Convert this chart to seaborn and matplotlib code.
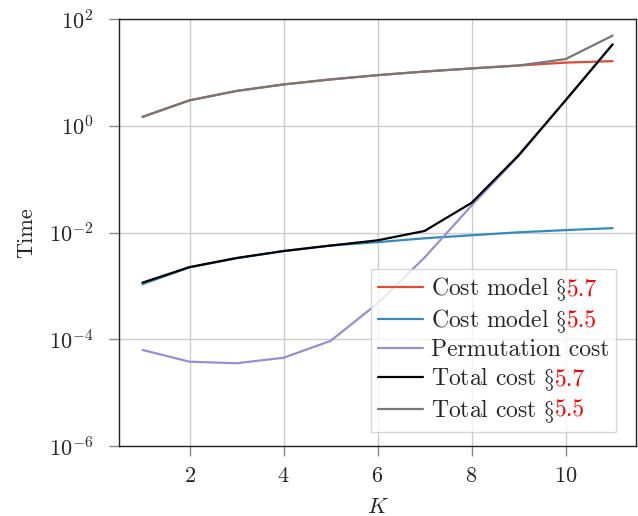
import numpy as np
import pandas as pd
import matplotlib
matplotlib.use("Agg")
import matplotlib.pyplot as plt
import seaborn as sns
from matplotlib.offsetbox import HPacker, TextArea

K = [1, 2, 3, 4, 5, 6, 7, 8, 9, 10, 11]
cost_model_57 = [1.47, 3.0, 4.5, 5.96, 7.4, 8.9, 10.4, 11.9, 13.5, 15.3, 16.3]
cost_model_55 = [0.00108, 0.00222, 0.0033, 0.0045, 0.0057, 0.0066, 0.0078, 0.0089, 0.0101, 0.0111, 0.0121]
permutation_cost = [6.3e-5, 3.8e-5, 3.55e-5, 4.5e-5, 9.3e-5, 4.7e-4, 3.4e-3, 0.032, 0.27, 3.0, 33.5]
total_cost_57 = [0.00115, 0.00225, 0.00333, 0.0045, 0.0057, 0.00714, 0.0107, 0.036, 0.28, 3.0, 33.5]
total_cost_55 = [1.47, 3.0, 4.5, 5.96, 7.4, 8.9, 10.4, 11.9, 13.5, 17.8, 49.0]

labels = ["Cost model §5.7", "Cost model §5.5", "Permutation cost",
          "Total cost §5.7", "Total cost §5.5"]
series = [cost_model_57, cost_model_55, permutation_cost, total_cost_57, total_cost_55]
colors = ["#E24A33", "#348ABD", "#988ED5", "#000000", "#777777"]

df = pd.concat([pd.DataFrame({"K": K, "Time": v, "Series": lab})
                for lab, v in zip(labels, series)], ignore_index=True)

sns.set_style("white")
plt.rcParams["font.family"] = ["cmr10", "DejaVu Serif"]
plt.rcParams["mathtext.fontset"] = "cm"
plt.rcParams["axes.formatter.use_mathtext"] = True

FS = 16
LFS = 17

fig = plt.figure(figsize=(6.38, 5.16), dpi=100)
ax = fig.add_axes([0.1865, 0.1357, 0.8105, 0.8273])

sns.lineplot(data=df, x="K", y="Time", hue="Series", hue_order=labels,
             palette=dict(zip(labels, colors)), linewidth=1.6, ax=ax, legend=False)

ax.set_yscale("log")
ax.set_ylim(1e-6, 1e2)
ax.set_xlim(0.5, 11.5)
ax.set_yticks([1e-6, 1e-4, 1e-2, 1e0, 1e2])
ax.minorticks_off()
ax.set_xticks([2, 4, 6, 8, 10])
ax.grid(True, color="#cccccc", linewidth=1.0)
ax.set_axisbelow(True)
for s in ax.spines.values():
    s.set_color("#222222")
    s.set_linewidth(1.0)
ax.tick_params(axis="y", which="major", direction="out", length=7.5, width=1,
               color="#888888", labelsize=FS, left=True, pad=11)
ax.tick_params(axis="x", which="major", direction="out", length=7.5, width=1,
               color="#888888", labelsize=FS, bottom=True, pad=7.5)
ax.set_xlabel("$K$", fontsize=FS, labelpad=8)
ax.set_ylabel("Time", fontsize=FS, labelpad=9)

handles = [plt.Line2D([], [], color=c, lw=1.6) for c in colors]
prefixes = [lab.split("§")[0] + r"$\S$" if "§" in lab else lab for lab in labels]
suffixes = [lab.split("§")[1] if "§" in lab else "" for lab in labels]
leg = ax.legend(handles, prefixes, loc="lower right", bbox_to_anchor=(0.962, 0.033),
                fontsize=LFS, frameon=True, fancybox=False, framealpha=0.8,
                edgecolor="#cccccc", handlelength=1.9, handletextpad=0.34,
                labelspacing=0.17, borderpad=0.3, borderaxespad=0.0)
leg.get_frame().set_linewidth(1.0)

col = leg._legend_handle_box.get_children()[0]
for hp, suf in zip(col.get_children(), suffixes):
    if suf:
        ta = hp._children[1]
        red = TextArea(suf, textprops=dict(color="red", fontsize=LFS))
        newhp = HPacker(children=[ta, red], sep=0, pad=0, align="baseline")
        newhp.set_figure(fig)
        red.set_figure(fig)
        hp._children[1] = newhp

fig.savefig("out.png", dpi=100)
